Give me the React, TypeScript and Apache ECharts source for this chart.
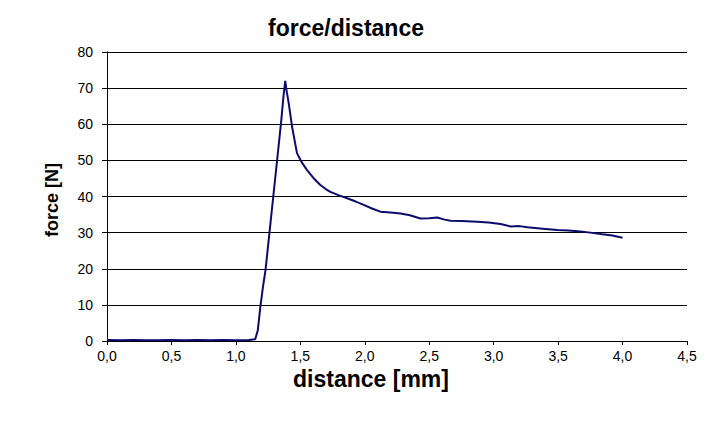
import React, { useEffect, useRef } from "react";
import * as echarts from "echarts";

const distance: number[] = [
  0.0, 0.1, 0.2, 0.3, 0.4, 0.5, 0.6, 0.7, 0.8, 0.9, 1.0, 1.1, 1.15, 1.17, 1.19, 1.21,
  1.23, 1.26, 1.29, 1.32, 1.35, 1.37, 1.383, 1.39, 1.41, 1.436, 1.474, 1.51, 1.552, 1.6,
  1.655, 1.7, 1.733, 1.8, 1.863, 1.93, 1.992, 2.06, 2.121, 2.2, 2.277, 2.35, 2.432, 2.5,
  2.562, 2.62, 2.666, 2.75, 2.873, 2.96, 3.054, 3.132, 3.2, 3.262, 3.38, 3.495, 3.58,
  3.674, 3.75, 3.83, 3.92, 4.0,
];
const force: number[] = [
  0.3, 0.2, 0.3, 0.2, 0.2, 0.3, 0.2, 0.3, 0.2, 0.3, 0.2, 0.3, 0.5, 3, 9.5, 15,
  19.7, 29.8, 40, 50.1, 60.3, 68, 72, 70, 65.8, 59.3, 52, 49.5, 47.3, 45.2,
  43.2, 42, 41.3, 40.3, 39.5, 38.6, 37.7, 36.6, 35.8, 35.6, 35.3, 34.8, 33.9, 34.0,
  34.2, 33.6, 33.3, 33.2, 33.0, 32.8, 32.4, 31.7, 31.8, 31.5, 31.1, 30.7, 30.6,
  30.3, 30.0, 29.6, 29.2, 28.6,
];

const titleText = "force/distance";
const xAxisTitle = "distance [mm]";
const yAxisTitle = "force [N]";

const FONT = "Arial, 'Liberation Sans', Helvetica, sans-serif";

export default function App() {
  const ref = useRef<HTMLDivElement>(null);
  useEffect(() => {
    if (!ref.current) return;
    const chart = echarts.init(ref.current, undefined, { renderer: "svg" });
    chart.setOption({
      animation: false,
      backgroundColor: "#ffffff",
      grid: { left: 107, right: 26, top: 52, bottom: 85, containLabel: false },
      graphic: [
        {
          type: "text",
          x: 346,
          y: 28,
          style: {
            text: titleText,
            font: `bold 23px ${FONT}`,
            fill: "#000",
            textAlign: "center",
            textVerticalAlign: "middle",
          },
        },
        {
          type: "text",
          x: 371,
          y: 379,
          style: {
            text: xAxisTitle,
            font: `bold 23px ${FONT}`,
            fill: "#000",
            textAlign: "center",
            textVerticalAlign: "middle",
          },
        },
        {
          type: "text",
          x: 52,
          y: 200,
          rotation: Math.PI / 2,
          style: {
            text: yAxisTitle,
            font: `bold 18px ${FONT}`,
            fill: "#000",
            textAlign: "center",
            textVerticalAlign: "middle",
          },
        },
      ],
      xAxis: {
        type: "value",
        min: 0,
        max: 4.5,
        interval: 0.5,
        axisLine: { show: true, onZero: false, lineStyle: { color: "#000", width: 1 } },
        axisTick: { show: true, inside: false, length: 4, lineStyle: { color: "#000" } },
        axisLabel: {
          color: "#000",
          fontSize: 14,
          fontFamily: FONT,
          margin: 8,
          formatter: (v: number) => v.toFixed(1).replace(".", ","),
        },
        splitLine: { show: false },
      },
      yAxis: {
        type: "value",
        min: 0,
        max: 80,
        interval: 10,
        axisLine: { show: true, lineStyle: { color: "#000", width: 1 } },
        axisTick: { show: true, inside: false, length: 5, lineStyle: { color: "#000" } },
        axisLabel: { color: "#000", fontSize: 14, fontFamily: FONT, margin: 14 },
        splitLine: { show: true, lineStyle: { color: "#000", width: 1 } },
      },
      series: [
        {
          type: "line",
          data: distance.map((d, i) => [d, force[i]]),
          showSymbol: false,
          symbol: "none",
          lineStyle: { color: "#0b0b6b", width: 2 },
        },
      ],
    });
    return () => chart.dispose();
  }, []);
  return <div ref={ref} style={{ width: 713, height: 426, position: "absolute", left: 0, top: 0 }} />;
}
